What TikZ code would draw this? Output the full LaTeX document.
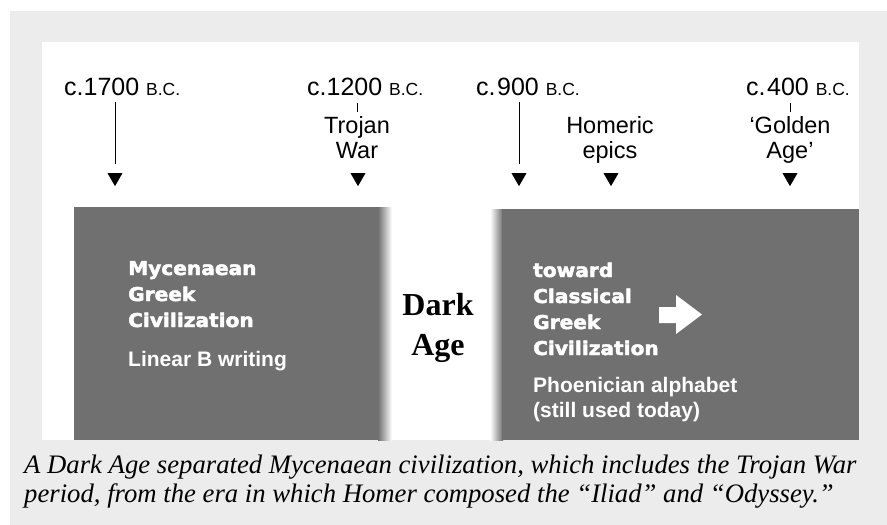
\documentclass[tikz,border=0pt]{standalone}
\usepackage{fontspec}
\setmainfont{Liberation Serif}
\setsansfont{Liberation Sans}
\newfontfamily\heavyfont[FakeStretch=1.06,FakeBold=2.5]{DejaVu Sans}
\usetikzlibrary{shapes.geometric}
\definecolor{pagegray}{RGB}{236,236,236}
\definecolor{boxgray}{RGB}{112,112,112}
\newcommand{\bc}{{\fontsize{17.5}{18}\selectfont B.C.}}
\tikzset{
	datelbl/.style={anchor=base west,inner sep=0pt,font=\sffamily\fontsize{25}{25}\selectfont},
	eventlbl/.style={anchor=base,inner sep=0pt,align=center,font=\sffamily\fontsize{23.5}{25}\selectfont},
	marker/.style={regular polygon,regular polygon sides=3,shape border rotate=180,fill=black,inner sep=0pt,minimum size=17.3pt},
	boldlbl/.style={anchor=base west,inner sep=0pt,align=left,text=white,font=\heavyfont\bfseries\fontsize{19}{26}\selectfont},
	notelbl/.style={anchor=base west,inner sep=0pt,align=left,text=white,font=\sffamily\bfseries\fontsize{21}{24.5}\selectfont},
}
\begin{document}
\begin{tikzpicture}[x=1pt,y=-1pt]
		\useasboundingbox (0,0) rectangle (887,525);
		\fill[pagegray] (10,11) rectangle (887,525);
		\fill[white] (42,42) rectangle (859,440);
		% the two eras, fading into the dark age
		\fill[boxgray] (74,207) rectangle (379,440);
		\shade[left color=boxgray,right color=white] (378,207) rectangle (392,440);
		\shade[left color=white,right color=boxgray] (490,209) rectangle (503,440);
		\fill[boxgray] (502,209) rectangle (859,440);
		\node[datelbl] (d1700) at (64,95) {c.1700 \bc};
		\node[datelbl] (d1200) at (307,95) {c.1200 \bc};
		\node[datelbl] (d900) at (476,95) {c.\kern1.5pt900 \bc};
		\node[datelbl] (d400) at (746,95) {c.\kern1.5pt400 \bc};
		% multi-line nodes sit on the baseline of their last line
		\node[eventlbl] (troy) at (357,158) {Trojan\\War};
		\node[eventlbl] (homer) at (610,158) {Homeric\\epics};
		\node[eventlbl] (golden) at (790,158) {‘Golden\\Age’};
		\node[marker] (m1700) at (115,177.5) {};
		\node[marker] (m1200) at (358,177.5) {};
		\node[marker] (m900) at (519,177.5) {};
		\node[marker] (mhomer) at (611,177.5) {};
		\node[marker] (m400) at (790,177.5) {};
		\draw[shorten <=7pt,shorten >=9pt] (m1700 |- d1700.south) -- (m1700.north);
		\draw[shorten <=7pt,shorten >=9pt] (m900 |- d900.south) -- (m900.north);
		\draw[shorten <=8pt,shorten >=4pt] (troy |- d1200.south) -- (troy.north);
		\draw[shorten <=8pt,shorten >=4pt] (golden |- d400.south) -- (golden.north);
		\node[font=\bfseries\fontsize{32}{40}\selectfont,align=center,anchor=base,inner sep=0pt] (dark) at (438,355) {Dark\\Age};
		\node[boldlbl] (myc) at (128,327) {Mycenaean\\Greek\\Civilization};
		\node[notelbl] (linb) at (128,366) {Linear B writing};
		\node[boldlbl] (classic) at (533,355) {toward\\Classical\\Greek\\Civilization};
		\node[notelbl] (phoen) at (533,417) {Phoenician alphabet\\(still used today)};
		\fill[white] (659,307) -- (676,307) -- (676,295) -- (702,314.5) -- (676,334) -- (676,323) -- (659,323) -- cycle;
		\node[anchor=base west,inner sep=0pt,align=left,font=\itshape\fontsize{26.7}{29}\selectfont] (caption) at (24,502) {A Dark Age separated Mycenaean civilization, which includes the Trojan War\\period, from the era in which Homer composed the “Iliad” and “Odyssey.”};
	\end{tikzpicture}
\end{document}
